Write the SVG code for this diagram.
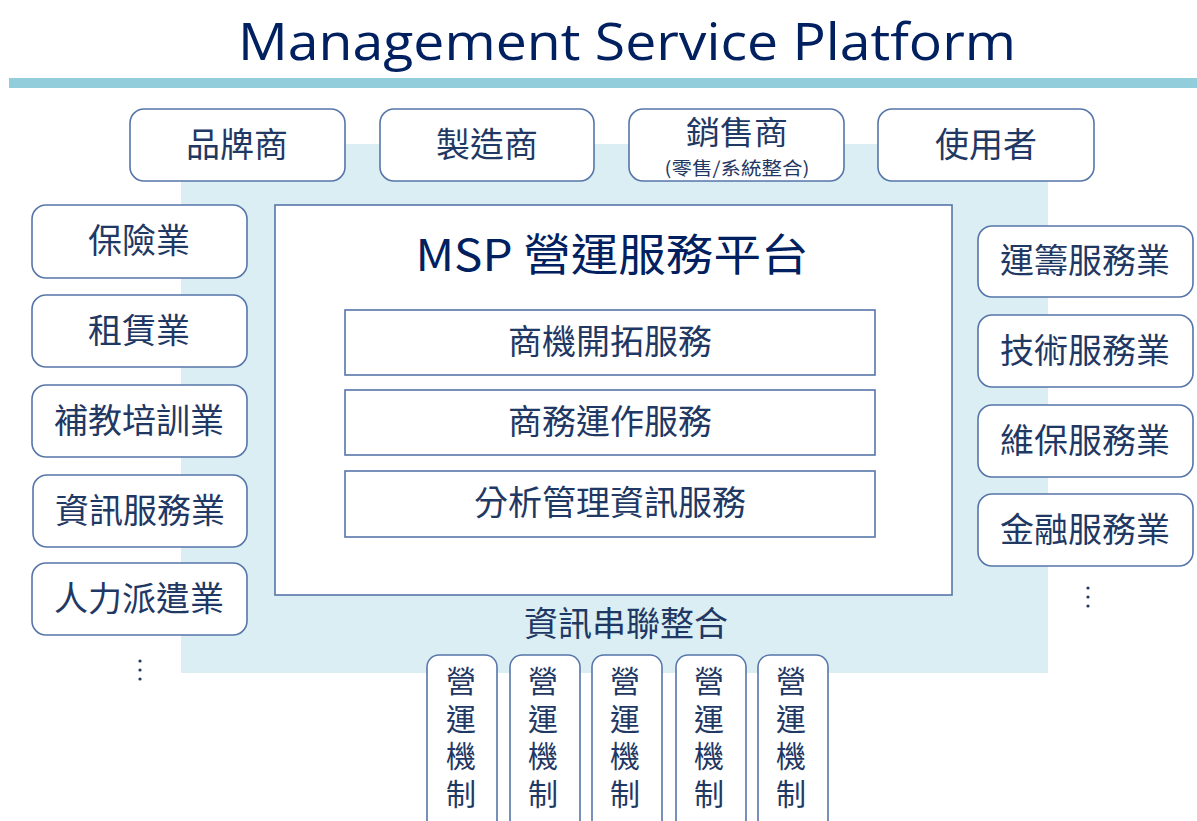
<svg xmlns="http://www.w3.org/2000/svg" width="1197" height="821" viewBox="0 0 1197 821">
<style>
.t{font-family:"Noto Sans CJK TC","Noto Sans",sans-serif;fill:#1F3864;text-anchor:middle;dominant-baseline:central}
.v{font-family:"Noto Sans CJK TC","Noto Sans",sans-serif;fill:#1F3864;font-size:30px;writing-mode:vertical-rl;letter-spacing:7.5px}
.rb{fill:#fff;stroke:#5676A9;stroke-width:1.6}
.sb{fill:#fff;stroke:#5676A9;stroke-width:1.6}
</style>
<rect width="1197" height="821" fill="#fff"/>
<text x="627" y="60" font-family="'Open Sans','Noto Sans',sans-serif" font-size="52" fill="#002060" text-anchor="middle" textLength="778" lengthAdjust="spacingAndGlyphs">Management Service Platform</text>
<rect x="9" y="78" width="1188" height="10" fill="#92CDDC"/>
<rect id="panel" x="181" y="144" width="867" height="529" fill="#DAEEF3"/>

<g id="top-brand"><rect class="rb" x="130" y="109" width="215" height="72" rx="14"/><text class="t" x="237" y="142" font-size="34">品牌商</text></g>
<g id="top-maker"><rect class="rb" x="380" y="109" width="214" height="72" rx="14"/><text class="t" x="487" y="142" font-size="34">製造商</text></g>
<g id="top-seller"><rect class="rb" x="629" y="109" width="215" height="72" rx="14"/><text class="t" x="737" y="130" font-size="32" textLength="102" lengthAdjust="spacingAndGlyphs">銷售商</text><text class="t" x="737" y="167" font-size="18" textLength="145" lengthAdjust="spacingAndGlyphs">(零售/系統整合)</text></g>
<g id="top-user"><rect class="rb" x="878" y="109" width="216" height="72" rx="14"/><text class="t" x="986" y="142" font-size="34">使用者</text></g>

<g id="l1"><rect class="rb" x="32" y="205" width="215" height="73" rx="14"/><text class="t" x="139" y="238" font-size="34">保險業</text></g>
<g id="l2"><rect class="rb" x="32" y="295" width="215" height="72" rx="14"/><text class="t" x="139" y="328" font-size="34">租賃業</text></g>
<g id="l3"><rect class="rb" x="32" y="385" width="215" height="72" rx="14"/><text class="t" x="139" y="418" font-size="34">補教培訓業</text></g>
<g id="l4"><rect class="rb" x="33" y="475" width="214" height="72" rx="14"/><text class="t" x="140" y="508" font-size="34">資訊服務業</text></g>
<g id="l5"><rect class="rb" x="32" y="563" width="215" height="72" rx="14"/><text class="t" x="139" y="596" font-size="34">人力派遣業</text></g>
<g id="l-more" fill="#1F3864"><circle cx="140" cy="661" r="1.6"/><circle cx="140" cy="670" r="1.6"/><circle cx="140" cy="679" r="1.6"/></g>

<g id="r1"><rect class="rb" x="978" y="226" width="215" height="71" rx="14"/><text class="t" x="1085" y="258" font-size="34">運籌服務業</text></g>
<g id="r2"><rect class="rb" x="978" y="315" width="215" height="72" rx="14"/><text class="t" x="1085" y="348" font-size="34">技術服務業</text></g>
<g id="r3"><rect class="rb" x="978" y="405" width="215" height="72" rx="14"/><text class="t" x="1085" y="438" font-size="34">維保服務業</text></g>
<g id="r4"><rect class="rb" x="978" y="494" width="215" height="72" rx="14"/><text class="t" x="1085" y="527" font-size="34">金融服務業</text></g>
<g id="r-more" fill="#1F3864"><circle cx="1088" cy="588" r="1.6"/><circle cx="1088" cy="597" r="1.6"/><circle cx="1088" cy="606" r="1.6"/></g>

<g id="msp">
<rect class="sb" x="275" y="205" width="677" height="390"/>
<text x="612" y="271" font-family="'Noto Sans CJK TC','Noto Sans',sans-serif" font-size="44" fill="#002060" text-anchor="middle" textLength="393" lengthAdjust="spacingAndGlyphs">MSP 營運服務平台</text>
</g>
<g id="s1"><rect class="sb" x="345" y="310" width="530" height="65"/><text class="t" x="610" y="339" font-size="34">商機開拓服務</text></g>
<g id="s2"><rect class="sb" x="345" y="390" width="530" height="65"/><text class="t" x="610" y="419" font-size="34">商務運作服務</text></g>
<g id="s3"><rect class="sb" x="345" y="471" width="530" height="66"/><text class="t" x="610" y="500" font-size="34">分析管理資訊服務</text></g>

<text id="integration" class="t" x="626" y="621" font-size="34">資訊串聯整合</text>

<g id="m1"><rect class="rb" x="427" y="655" width="70" height="180" rx="12"/><text class="v" x="461" y="666">營運機制</text></g>
<g id="m2"><rect class="rb" x="510" y="655" width="70" height="180" rx="12"/><text class="v" x="543" y="666">營運機制</text></g>
<g id="m3"><rect class="rb" x="592" y="655" width="70" height="180" rx="12"/><text class="v" x="625" y="666">營運機制</text></g>
<g id="m4"><rect class="rb" x="676" y="655" width="70" height="180" rx="12"/><text class="v" x="709" y="666">營運機制</text></g>
<g id="m5"><rect class="rb" x="758" y="655" width="70" height="180" rx="12"/><text class="v" x="791" y="666">營運機制</text></g>
<g id="connectors"/>
</svg>
